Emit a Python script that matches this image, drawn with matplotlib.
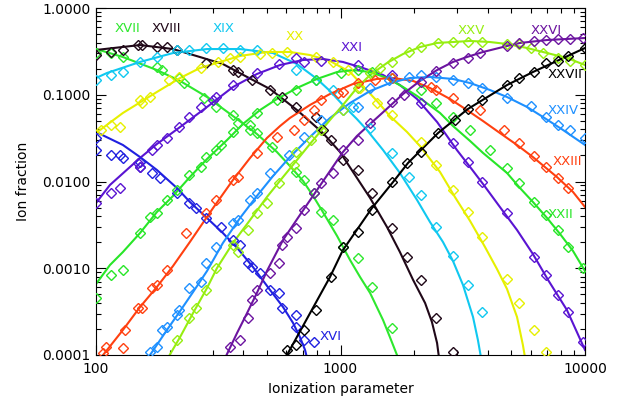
import numpy as np
import matplotlib
matplotlib.use("Agg")
import matplotlib.pyplot as plt

# All values are log10(ionization parameter) and log10(ion fraction),
# read off the reference figure. *_LU / *_LF = model curve, *_PU / *_PF = diamonds.

XVI_LU = [2.0, 2.110, 2.180, 2.249, 2.331, 2.384, 2.454, 2.519, 2.581, 2.642, 2.712, 2.765, 2.806, 2.834, 2.855, 2.863]
XVI_LF = [-1.429, -1.579, -1.718, -1.867, -2.075, -2.236, -2.421, -2.594, -2.778, -2.986, -3.251, -3.447, -3.631, -3.793, -3.942, -4.035]
XVI_PU = [2.00, 2.00, 2.06, 2.10, 2.11, 2.18, 2.18, 2.23, 2.26, 2.33, 2.38, 2.41, 2.45, 2.51, 2.56, 2.59, 2.62, 2.64, 2.67, 2.71, 2.75, 2.76, 2.82, 2.82, 2.85, 2.89]
XVI_PF = [-1.50, -1.64, -1.69, -1.69, -1.73, -1.78, -1.83, -1.90, -1.96, -2.13, -2.25, -2.31, -2.42, -2.52, -2.67, -2.73, -2.94, -2.99, -3.05, -3.25, -3.29, -3.46, -3.54, -3.68, -3.83, -3.85]

XVII_LU = [2.0, 2.110, 2.249, 2.344, 2.454, 2.560, 2.658, 2.740, 2.793, 2.847, 2.888, 2.928, 2.986, 3.039, 3.080, 3.121, 3.174, 3.202, 3.231]
XVII_LF = [-0.473, -0.565, -0.715, -0.841, -1.026, -1.245, -1.452, -1.660, -1.821, -1.994, -2.167, -2.352, -2.628, -2.905, -3.101, -3.285, -3.597, -3.793, -4.0]
XVII_PU = [2.00, 2.06, 2.11, 2.25, 2.27, 2.34, 2.36, 2.44, 2.49, 2.56, 2.58, 2.63, 2.66, 2.72, 2.82, 2.85, 2.89, 2.92, 2.97, 3.01, 3.07, 3.13, 3.21]
XVII_PF = [-0.52, -0.52, -0.56, -0.68, -0.71, -0.81, -0.86, -1.04, -1.14, -1.23, -1.33, -1.41, -1.44, -1.60, -1.89, -1.98, -2.13, -2.35, -2.44, -2.76, -2.88, -3.22, -3.69]

XVIII_LU = [2.0, 2.180, 2.315, 2.425, 2.519, 2.618, 2.712, 2.822, 2.928, 2.998, 3.038, 3.121, 3.190, 3.243, 3.297, 3.346, 3.374, 3.395, 3.403]
XVIII_LF = [-0.484, -0.427, -0.473, -0.565, -0.646, -0.795, -0.934, -1.176, -1.441, -1.660, -1.833, -2.190, -2.524, -2.813, -3.135, -3.401, -3.620, -3.862, -4.035]
XVIII_PU = [2.00, 2.06, 2.11, 2.17, 2.19, 2.25, 2.29, 2.33, 2.45, 2.56, 2.58, 2.64, 2.71, 2.76, 2.82, 2.90, 2.93, 2.96, 3.01, 3.07, 3.13, 3.21, 3.27, 3.33, 3.39, 3.46]
XVIII_PF = [-0.54, -0.51, -0.48, -0.43, -0.43, -0.45, -0.45, -0.48, -0.63, -0.71, -0.74, -0.83, -0.95, -1.03, -1.14, -1.26, -1.41, -1.52, -1.75, -1.87, -2.13, -2.54, -2.87, -3.14, -3.57, -3.97]

XIX_LU = [2.0, 2.045, 2.180, 2.315, 2.454, 2.589, 2.724, 2.822, 2.904, 2.957, 3.010, 3.067, 3.108, 3.174, 3.243, 3.313, 3.366, 3.419, 3.460, 3.501, 3.542, 3.562, 3.575]
XIX_LF = [-0.807, -0.749, -0.622, -0.519, -0.473, -0.473, -0.519, -0.646, -0.818, -0.957, -1.118, -1.280, -1.406, -1.637, -1.902, -2.213, -2.467, -2.697, -2.916, -3.193, -3.562, -3.827, -4.035]
XIX_PU = [2.00, 2.06, 2.11, 2.18, 2.25, 2.33, 2.38, 2.45, 2.52, 2.59, 2.66, 2.82, 2.90, 2.97, 3.05, 3.12, 3.21, 3.28, 3.33, 3.39, 3.46, 3.52, 3.58]
XIX_PF = [-0.83, -0.77, -0.74, -0.62, -0.56, -0.48, -0.48, -0.46, -0.46, -0.48, -0.48, -0.71, -0.83, -0.95, -1.14, -1.38, -1.67, -1.95, -2.16, -2.52, -2.86, -3.19, -3.50]

XX_LU = [2.0, 2.110, 2.249, 2.344, 2.425, 2.507, 2.589, 2.699, 2.793, 2.875, 2.957, 3.039, 3.092, 3.149, 3.202, 3.272, 3.325, 3.407, 3.468, 3.530, 3.591, 3.640, 3.681, 3.722, 3.746, 3.755]
XX_LF = [-1.441, -1.210, -0.968, -0.807, -0.692, -0.622, -0.553, -0.507, -0.507, -0.542, -0.611, -0.738, -0.899, -1.072, -1.245, -1.429, -1.591, -1.890, -2.179, -2.455, -2.755, -3.009, -3.239, -3.562, -3.885, -4.035]
XX_PU = [2.02, 2.06, 2.10, 2.18, 2.19, 2.22, 2.30, 2.34, 2.43, 2.50, 2.55, 2.59, 2.67, 2.72, 2.78, 2.90, 2.97, 3.03, 3.08, 3.15, 3.21, 3.33, 3.39, 3.46, 3.52, 3.58, 3.68, 3.73, 3.79, 3.84]
XX_PF = [-1.41, -1.35, -1.37, -1.06, -1.10, -1.03, -0.83, -0.80, -0.69, -0.62, -0.58, -0.56, -0.53, -0.52, -0.51, -0.56, -0.62, -0.71, -0.92, -1.10, -1.23, -1.54, -1.81, -2.10, -2.35, -2.64, -3.12, -3.40, -3.71, -3.97]

XXI_LU = [2.0, 2.057, 2.180, 2.249, 2.344, 2.454, 2.560, 2.658, 2.753, 2.847, 2.928, 3.010, 3.092, 3.174, 3.243, 3.313, 3.395, 3.476, 3.530, 3.583, 3.652, 3.722, 3.787, 3.849, 3.926, 4.0]
XXI_LF = [-2.248, -2.040, -1.729, -1.568, -1.372, -1.141, -0.911, -0.761, -0.657, -0.599, -0.588, -0.622, -0.692, -0.772, -0.888, -1.049, -1.314, -1.637, -1.833, -2.029, -2.294, -2.559, -2.836, -3.135, -3.481, -3.942]
XXI_PU = [2.00, 2.06, 2.10, 2.17, 2.18, 2.23, 2.25, 2.29, 2.34, 2.38, 2.43, 2.48, 2.49, 2.56, 2.66, 2.75, 2.82, 2.85, 2.92, 3.07, 3.21, 3.33, 3.46, 3.52, 3.58, 3.68, 3.79, 3.84, 3.89, 3.93, 3.99]
XXI_PF = [-2.25, -2.13, -2.07, -1.79, -1.83, -1.64, -1.58, -1.50, -1.37, -1.26, -1.14, -1.06, -1.03, -0.89, -0.75, -0.65, -0.58, -0.62, -0.61, -0.66, -0.77, -1.10, -1.56, -1.78, -2.01, -2.36, -2.87, -3.08, -3.31, -3.50, -3.85]

XXII_LU = [2.0, 2.057, 2.110, 2.180, 2.249, 2.315, 2.384, 2.454, 2.536, 2.601, 2.671, 2.740, 2.822, 2.904, 2.986, 3.051, 3.121, 3.190, 3.256, 3.313, 3.407, 3.460, 3.530, 3.583, 3.681, 3.734, 3.787, 3.845, 3.898, 3.951, 4.0]
XXII_LF = [-3.182, -2.963, -2.813, -2.594, -2.352, -2.167, -1.948, -1.741, -1.522, -1.337, -1.176, -1.049, -0.922, -0.818, -0.738, -0.715, -0.738, -0.807, -0.911, -1.014, -1.210, -1.360, -1.533, -1.671, -1.902, -2.075, -2.236, -2.421, -2.605, -2.801, -3.032]
XXII_PU = [2.00, 2.06, 2.11, 2.18, 2.22, 2.25, 2.29, 2.33, 2.38, 2.43, 2.45, 2.49, 2.51, 2.56, 2.63, 2.66, 2.74, 2.82, 2.90, 3.00, 3.07, 3.13, 3.21, 3.33, 3.39, 3.46, 3.53, 3.61, 3.68, 3.73, 3.79, 3.84, 3.89, 3.93, 3.99]
XXII_PF = [-3.34, -3.08, -3.02, -2.59, -2.41, -2.36, -2.21, -2.10, -1.93, -1.83, -1.72, -1.64, -1.58, -1.43, -1.35, -1.21, -1.06, -0.95, -0.83, -0.75, -0.71, -0.74, -0.81, -0.95, -1.10, -1.26, -1.41, -1.64, -1.84, -2.02, -2.24, -2.39, -2.56, -2.76, -3.00]

XXIII_LU = [2.0, 2.029, 2.110, 2.180, 2.249, 2.315, 2.384, 2.479, 2.560, 2.630, 2.699, 2.753, 2.793, 2.875, 2.957, 3.051, 3.149, 3.215, 3.297, 3.366, 3.448, 3.517, 3.583, 3.652, 3.722, 3.787, 3.885, 3.951, 4.0]
XXIII_LF = [-4.10, -4.0, -3.712, -3.447, -3.216, -2.974, -2.697, -2.305, -1.983, -1.729, -1.499, -1.360, -1.268, -1.118, -0.991, -0.876, -0.818, -0.807, -0.841, -0.922, -1.049, -1.176, -1.303, -1.441, -1.579, -1.718, -1.948, -2.121, -2.294]
XXIII_PU = [2.03, 2.04, 2.11, 2.12, 2.17, 2.19, 2.23, 2.25, 2.29, 2.37, 2.45, 2.49, 2.56, 2.58, 2.66, 2.74, 2.81, 2.85, 2.89, 2.92, 2.99, 3.01, 3.07, 3.14, 3.21, 3.37, 3.39, 3.46, 3.57, 3.67, 3.73, 3.79, 3.84, 3.89, 3.93]
XXIII_PF = [-3.98, -3.91, -3.92, -3.71, -3.46, -3.46, -3.23, -3.19, -3.02, -2.59, -2.36, -2.21, -1.98, -1.95, -1.67, -1.49, -1.41, -1.29, -1.18, -1.06, -0.98, -0.97, -0.86, -0.83, -0.81, -0.91, -0.95, -1.04, -1.18, -1.41, -1.56, -1.71, -1.83, -1.96, -2.07]

XXIV_LU = [2.20, 2.221, 2.290, 2.344, 2.397, 2.454, 2.519, 2.589, 2.658, 2.724, 2.793, 2.875, 2.957, 3.039, 3.121, 3.202, 3.284, 3.366, 3.460, 3.530, 3.611, 3.681, 3.763, 3.828, 3.910, 4.0]
XXIV_LF = [-4.08, -4.0, -3.712, -3.493, -3.274, -3.032, -2.709, -2.421, -2.167, -1.937, -1.718, -1.487, -1.268, -1.095, -0.957, -0.865, -0.807, -0.795, -0.818, -0.865, -0.945, -1.026, -1.141, -1.256, -1.406, -1.579]
XXIV_PU = [2.22, 2.25, 2.27, 2.29, 2.33, 2.34, 2.38, 2.43, 2.45, 2.49, 2.56, 2.58, 2.63, 2.66, 2.71, 2.79, 2.85, 2.92, 3.01, 3.07, 3.12, 3.20, 3.28, 3.33, 3.39, 3.46, 3.52, 3.58, 3.68, 3.78, 3.84, 3.89, 3.94, 4.00]
XXIV_PF = [-3.97, -3.91, -3.71, -3.68, -3.54, -3.48, -3.23, -3.16, -2.94, -2.76, -2.48, -2.44, -2.21, -2.13, -1.90, -1.69, -1.49, -1.29, -1.18, -1.14, -0.92, -0.83, -0.80, -0.77, -0.80, -0.83, -0.86, -0.92, -1.04, -1.13, -1.26, -1.35, -1.41, -1.50]

XXV_LU = [2.294, 2.344, 2.397, 2.454, 2.495, 2.560, 2.630, 2.699, 2.765, 2.822, 2.875, 2.916, 2.957, 3.010, 3.067, 3.121, 3.190, 3.256, 3.325, 3.395, 3.460, 3.530, 3.611, 3.681, 3.763, 3.845, 3.926, 4.0]
XXV_LF = [-4.035, -3.793, -3.516, -3.228, -2.997, -2.709, -2.444, -2.179, -1.948, -1.752, -1.568, -1.429, -1.291, -1.118, -0.922, -0.772, -0.634, -0.530, -0.450, -0.403, -0.392, -0.380, -0.392, -0.415, -0.461, -0.519, -0.576, -0.657]
XXV_PU = [2.33, 2.38, 2.41, 2.45, 2.49, 2.56, 2.58, 2.62, 2.66, 2.70, 2.75, 2.81, 2.82, 2.88, 2.92, 3.01, 3.07, 3.12, 3.16, 3.21, 3.28, 3.33, 3.40, 3.46, 3.52, 3.58, 3.68, 3.73, 3.78, 3.83, 3.89, 3.94, 4.00]
XXV_PF = [-3.83, -3.57, -3.46, -3.25, -3.00, -2.73, -2.81, -2.56, -2.36, -2.25, -2.02, -1.81, -1.66, -1.52, -1.41, -1.18, -0.92, -0.75, -0.69, -0.62, -0.51, -0.45, -0.40, -0.39, -0.39, -0.39, -0.41, -0.41, -0.46, -0.52, -0.58, -0.61, -0.66]

XXVI_LU = [2.528, 2.577, 2.618, 2.658, 2.699, 2.765, 2.834, 2.904, 2.957, 3.010, 3.067, 3.121, 3.202, 3.256, 3.325, 3.395, 3.460, 3.517, 3.583, 3.681, 3.734, 3.845, 4.0]
XXVI_LF = [-4.035, -3.746, -3.516, -3.285, -3.032, -2.674, -2.386, -2.098, -1.879, -1.660, -1.476, -1.337, -1.130, -0.991, -0.841, -0.715, -0.622, -0.565, -0.507, -0.438, -0.403, -0.369, -0.346]
XXVI_PU = [2.55, 2.59, 2.62, 2.64, 2.66, 2.71, 2.75, 2.76, 2.78, 2.82, 2.85, 2.89, 2.92, 2.97, 3.01, 3.07, 3.12, 3.21, 3.26, 3.33, 3.39, 3.46, 3.52, 3.57, 3.68, 3.73, 3.79, 3.84, 3.89, 3.94, 3.99]
XXVI_PF = [-3.91, -3.83, -3.57, -3.37, -3.25, -3.05, -2.94, -2.73, -2.64, -2.54, -2.33, -2.13, -2.02, -1.90, -1.64, -1.52, -1.33, -1.08, -1.00, -0.85, -0.73, -0.63, -0.58, -0.52, -0.44, -0.40, -0.38, -0.37, -0.36, -0.36, -0.35]

XXVII_LU = [2.77, 2.781, 2.957, 3.010, 3.129, 3.215, 3.276, 3.399, 3.521, 3.681, 3.787, 3.885, 4.0]
XXVII_LF = [-4.07, -4.0, -3.101, -2.790, -2.305, -2.006, -1.787, -1.441, -1.164, -0.888, -0.738, -0.611, -0.461]
XXVII_PU = [2.78, 2.82, 2.85, 2.90, 2.96, 3.01, 3.07, 3.13, 3.21, 3.27, 3.33, 3.40, 3.47, 3.52, 3.58, 3.68, 3.73, 3.79, 3.84, 3.89, 3.93, 4.00]
XXVII_PF = [-3.94, -3.88, -3.71, -3.48, -3.10, -2.76, -2.58, -2.33, -2.01, -1.79, -1.66, -1.44, -1.29, -1.16, -1.06, -0.89, -0.81, -0.74, -0.63, -0.61, -0.55, -0.46]

# name, colour, curve, points
ions = [
    ("XVI", "#2020e0", XVI_LU, XVI_LF, XVI_PU, XVI_PF),
    ("XVII", "#2ee82e", XVII_LU, XVII_LF, XVII_PU, XVII_PF),
    ("XVIII", "#200818", XVIII_LU, XVIII_LF, XVIII_PU, XVIII_PF),
    ("XIX", "#10c8f0", XIX_LU, XIX_LF, XIX_PU, XIX_PF),
    ("XX", "#e6f000", XX_LU, XX_LF, XX_PU, XX_PF),
    ("XXI", "#5a14d2", XXI_LU, XXI_LF, XXI_PU, XXI_PF),
    ("XXII", "#28e628", XXII_LU, XXII_LF, XXII_PU, XXII_PF),
    ("XXIII", "#ff4010", XXIII_LU, XXIII_LF, XXIII_PU, XXIII_PF),
    ("XXIV", "#1e90ff", XXIV_LU, XXIV_LF, XXIV_PU, XXIV_PF),
    ("XXV", "#96ee10", XXV_LU, XXV_LF, XXV_PU, XXV_PF),
    ("XXVI", "#6c14a0", XXVI_LU, XXVI_LF, XXVI_PU, XXVI_PF),
    ("XXVII", "#000000", XXVII_LU, XXVII_LF, XXVII_PU, XXVII_PF),
]

# where each ion name is written (log10 U, log10 fraction)
label_pos = {
    "XVI": (2.96, -3.79), "XVII": (2.127, -0.242), "XVIII": (2.286, -0.242),
    "XIX": (2.52, -0.242), "XX": (2.814, -0.334), "XXI": (3.047, -0.461),
    "XXII": (3.898, -2.386), "XXIII": (3.926, -1.775), "XXIV": (3.91, -1.176),
    "XXV": (3.534, -0.254), "XXVI": (3.84, -0.254), "XXVII": (3.918, -0.772),
}

plt.rcParams['font.family'] = 'DejaVu Sans'
plt.rcParams['font.size'] = 10

fig = plt.figure(figsize=(6.17, 3.98), dpi=100)
ax = fig.add_axes([96 / 617, 1 - 355 / 398, 489 / 617, 347 / 398])
ax.set_xscale('log')
ax.set_yscale('log')

for name, color, cu, cf, pu, pf in ions:
    ax.plot(10 ** np.array(cu), 10 ** np.array(cf), color=color, lw=1.5, zorder=2)
    ax.plot(10 ** np.array(pu), 10 ** np.array(pf), ls='none', marker='D', ms=4.6,
            mfc='none', mec=color, mew=1.0, zorder=3)
    lx, ly = label_pos[name]
    ax.text(10 ** lx, 10 ** ly, name, color=color, fontsize=9.5,
            ha='center', va='center', zorder=4)

ax.set_xlim(100, 10000)
ax.set_ylim(1e-4, 1.0)
ax.set_xticks([100, 1000, 10000])
ax.set_xticklabels(['100', '1000', '10000'])
ax.set_yticks([1e-4, 1e-3, 1e-2, 1e-1, 1.0])
ax.set_yticklabels(['0.0001', '0.0010', '0.0100', '0.1000', '1.0000'])
ax.tick_params(which='both', direction='in', top=True, right=True, width=0.8)
ax.tick_params(which='major', length=7, pad=5)
ax.tick_params(which='minor', length=3.5)
ax.tick_params(axis='y', which='major', pad=4)
for s in ax.spines.values():
    s.set_linewidth(0.8)

ax.set_xlabel('Ionization parameter', labelpad=4)
ax.set_ylabel('Ion fraction', labelpad=9)

fig.savefig('out.png', dpi=100)
